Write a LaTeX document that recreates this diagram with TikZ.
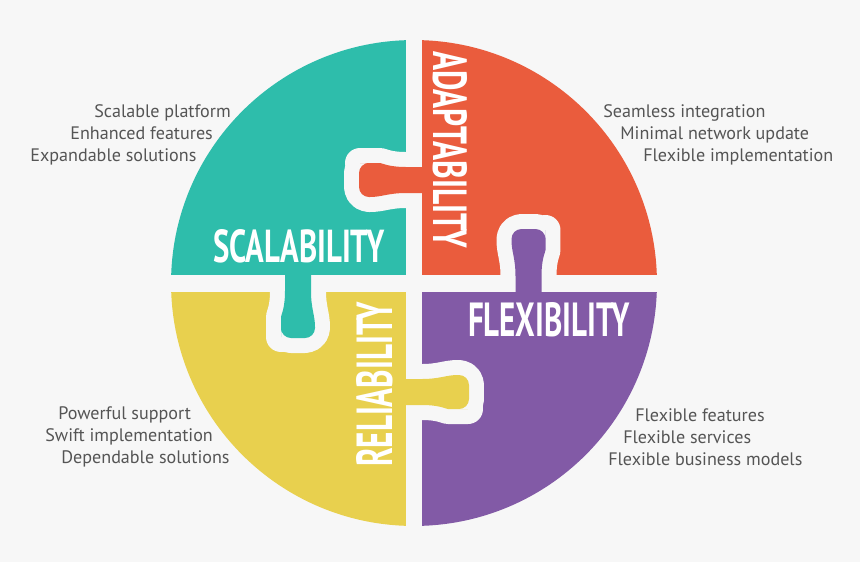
\documentclass[tikz,border=0pt]{standalone}
\usepackage{fontspec}
\setmainfont{PT Sans}
\usepackage{xcolor}
\usepackage{graphicx}
\usetikzlibrary{positioning}

\definecolor{bgc}{HTML}{F7F7F7}
\definecolor{scal}{HTML}{2EBDAB}
\definecolor{adap}{HTML}{EA5C3D}
\definecolor{reli}{HTML}{E8D04E}
\definecolor{flex}{HTML}{825AA6}
\definecolor{note}{HTML}{555555}

\begin{document}
\begin{tikzpicture}[
  x=0.02cm, y=-0.02cm,
  desc/.style={anchor=base west, inner sep=0pt, text=note, font=\fontsize{10.3}{12}\selectfont},
  title/.style={inner sep=0pt, text=white, font=\bfseries},
  gapline/.style={draw=bgc, line width=0.6cm, line join=round}
]
\fill[bgc] (0,0) rectangle (860,562);
\useasboundingbox (0,0) rectangle (860,562);

% four quarters of the disc
\begin{scope}
  \clip (414,283) circle[radius=4.86cm];
  \fill[scal] (150,20) rectangle (406,275);
  \fill[adap] (422,20) rectangle (680,275);
  \fill[reli] (150,292) rectangle (406,550);
  \fill[flex] (422,292) rectangle (680,550);
\end{scope}

% puzzle tabs: base point / direction / colour
\foreach \px/\py/\ang/\col in {422/180/180/adap, 528.5/292/90/flex, 298/275/-90/scal, 406/392/0/reli} {
  \begin{scope}[shift={(\px,\py)}, rotate=\ang]
    \draw[gapline] (16,-13) .. controls (34,-13) and (40,-17) .. (52,-17)
      [rounded corners=0.2cm] -- (63,-17) -- (63,17) -- (52,17)
      [sharp corners] .. controls (40,17) and (34,13) .. (16,13);
    \fill[\col] (-2,-13) -- (16,-13) .. controls (34,-13) and (40,-17) .. (52,-17)
      [rounded corners=0.2cm] -- (63,-17) -- (63,17) -- (52,17)
      [sharp corners] .. controls (40,17) and (34,13) .. (16,13) -- (-2,13) -- cycle;
  \end{scope}
}

% titles
\node[title] (scalt) at (299,246) {\resizebox{3.42cm}{0.66cm}{SCALABILITY}};
\node[title, rotate=-90] (adapt) at (450,149.5) {\resizebox{3.94cm}{0.68cm}{ADAPTABILITY}};
\node[title] (flext) at (549,320) {\resizebox{3.24cm}{0.68cm}{FLEXIBILITY}};
\node[title, rotate=90] (relit) at (375,384.5) {\resizebox{3.3cm}{0.72cm}{RELIABILITY}};

% notes
\node[desc] (s1) at (94,117) {Scalable platform};
\node[desc] (s2) at (70,139) {Enhanced features};
\node[desc] (s3) at (30,161) {Expandable solutions};

\node[desc] (a1) at (603,117) {Seamless integration};
\node[desc] (a2) at (620,139) {Minimal network update};
\node[desc] (a3) at (643,161) {Flexible implementation};

\node[desc] (r1) at (58,419) {Powerful support};
\node[desc] (r2) at (45,441) {Swift implementation};
\node[desc] (r3) at (61,463) {Dependable solutions};

\node[desc] (f1) at (635,421) {Flexible features};
\node[desc] (f2) at (623,443) {Flexible services};
\node[desc] (f3) at (608,465) {Flexible business models};
\end{tikzpicture}
\end{document}
